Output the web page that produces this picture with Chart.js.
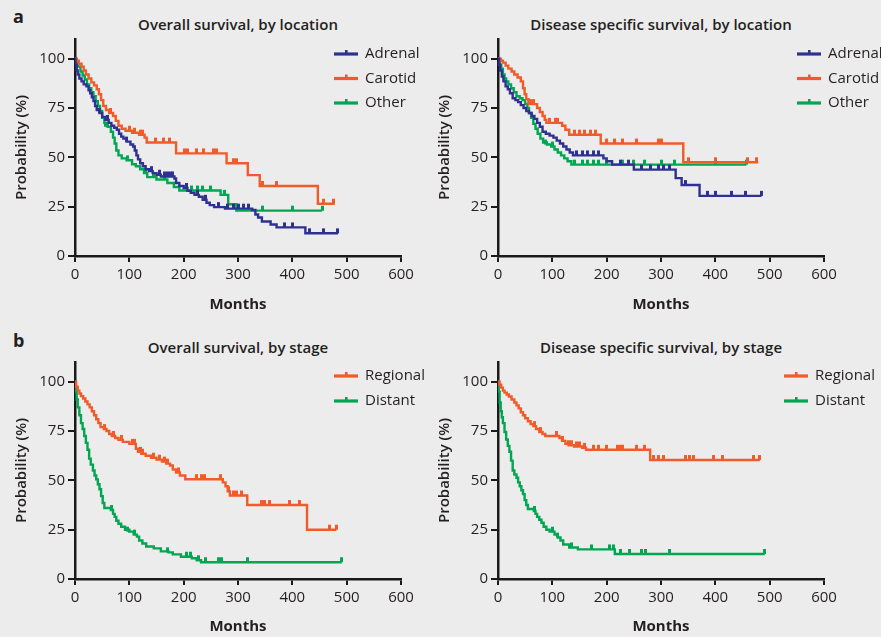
<!DOCTYPE html>
<html><head><meta charset="utf-8">
<script src="https://cdn.jsdelivr.net/npm/chart.js@4.4.1/dist/chart.umd.min.js"></script>
<style>
html,body{margin:0;padding:0;background:#ececec;overflow:hidden;}
body{width:881px;height:637px;position:relative;font-family:"Open Sans",sans-serif;color:#231f20;}
canvas{position:absolute;}
.ttl{position:absolute;transform:translate(-50%,-50%);font-weight:600;font-size:15px;white-space:nowrap;}
.lett{position:absolute;font-weight:700;font-size:18px;transform:translate(0,-50%);}
</style></head><body>
<div class="lett" style="left:13px;top:16px;">a</div>
<div class="lett" style="left:13px;top:340px;">b</div>
<div class="ttl" id="t0" style="left:238px;top:24px;"></div>
<div class="ttl" id="t1" style="left:661px;top:24px;"></div>
<div class="ttl" id="t2" style="left:238px;top:347px;"></div>
<div class="ttl" id="t3" style="left:661px;top:347px;"></div>
<canvas id="c0" width="440" height="320" style="left:0;top:0;"></canvas>
<canvas id="c1" width="458" height="320" style="left:423px;top:0;"></canvas>
<canvas id="c2" width="440" height="317" style="left:0;top:320px;"></canvas>
<canvas id="c3" width="458" height="317" style="left:423px;top:320px;"></canvas>
<script>
// ---------- labels ----------
const xTicks = [0, 100, 200, 300, 400, 500, 600];
const yTicks = [0, 25, 50, 75, 100];
const locationGroups = ['Adrenal', 'Carotid', 'Other'];
const stageGroups = ['Regional', 'Distant'];
const panelTitles = ['Overall survival, by location', 'Disease specific survival, by location',
                     'Overall survival, by stage', 'Disease specific survival, by stage'];
const xTitle = 'Months';
const yTitle = 'Probability (%)';

// ---------- data: [months, survival %] ----------
// Overall survival, by location
const osAdrenal = [[0,100],[1,97],[3,94],[5,92],[8,90],[12,88.5],[16,87],[21,86],[25,84],[28,82.5],[31,80.5],[34,78.5],[37,76],[40,74],[45,72.5],[50,70.5],[56,69],[62,67.5],[67,66],[72,65],[77,64],[81,62],[85,60.5],[89,59.5],[95,58],[102,56.5],[107,55.5],[110,53.5],[113,51],[116,49],[120,47],[125,45.5],[130,44],[136,43],[143,42],[150,41.2],[158,40.3],[183,39.3],[186,37],[192,35.5],[200,34.5],[207,33],[213,32],[220,31],[228,30],[235,28.5],[242,27],[248,25.8],[256,24.8],[276,24],[326,23.3],[332,21],[337,19.5],[344,17.5],[360,16],[371,14.5],[424,11.5],[484,11.5]];
const osAdrenalCens = [[45,72.5],[60,69],[95,58],[140,43],[155,41.2],[165,40.3],[170,40.3],[175,40.3],[180,40.3],[205,34.5],[225,31],[240,28.5],[265,24.8],[280,24],[292,24],[300,24],[310,24],[320,24],[385,14.5],[400,14.5],[432,11.5],[457,11.5],[484,11.5]];
const osCarotid = [[0,100],[3,99],[7,97.5],[12,96],[16,94],[20,92],[25,90],[30,88],[35,86.5],[40,84.5],[44,82],[48,79],[52,76],[57,74],[63,72.5],[70,71],[75,68.5],[80,66],[86,64.5],[93,63.5],[105,62.5],[118,61.5],[128,60],[132,57.5],[186,52],[279,47],[318,41],[340,35.5],[447,26.5],[478,26.5]];
const osCarotidCens = [[65,72.5],[100,63.5],[110,62.5],[120,61.5],[125,61.5],[149,57.5],[162,57.5],[174,57.5],[201,52],[207,52],[223,52],[236,52],[254,52],[260,52],[291,47],[297,47],[346,35.5],[371,35.5],[457,26.5],[475,26.5]];
const osOther = [[0,100],[3,98],[6,96],[10,93.5],[14,91.5],[18,89.5],[22,87],[26,85],[30,83],[34,81],[38,78.5],[42,76],[46,73.5],[50,70],[54,67.5],[60,65.5],[66,63],[70,60],[73,57],[76,53.5],[80,51],[86,49.5],[95,48.5],[105,46.5],[112,45.5],[120,44],[127,42],[133,40],[150,38.8],[170,37],[182,35],[192,33.2],[268,31],[282,26.2],[297,23],[455,23]];
const osOtherCens = [[57,65.5],[97,48.5],[130,42],[145,40],[165,38.8],[215,33.2],[225,33.2],[235,33.2],[250,33.2],[275,31],[345,23],[400,23],[455,23]];

// Disease specific survival, by location
const dssAdrenal = [[0,100],[2,97],[4,94],[7,91],[10,88.5],[14,86],[18,84.5],[22,82.5],[27,80],[32,79],[37,78],[42,76.5],[47,75],[52,73.5],[57,72.5],[62,71],[67,69.5],[72,67.5],[77,65.5],[82,63],[88,62],[95,61],[102,60],[108,58.5],[114,57],[120,55.5],[126,54],[132,52.5],[138,51],[194,49.5],[200,48],[210,46.3],[250,43.8],[327,39.5],[338,36],[371,30.5],[485,30.5]];
const dssAdrenalCens = [[145,51],[155,51],[165,51],[175,51],[185,51],[225,46.3],[240,46.3],[265,43.8],[280,43.8],[295,43.8],[305,43.8],[315,43.8],[345,36],[385,30.5],[400,30.5],[430,30.5],[455,30.5],[485,30.5]];
const dssCarotid = [[0,100],[5,99],[9,98],[14,96.5],[19,95],[25,93.5],[30,92],[36,90.5],[42,88.5],[46,85],[49,82],[52,79.5],[56,77],[72,75],[77,73],[82,71],[86,69],[89,67.5],[118,66],[124,64],[131,61.5],[189,57],[341,47.5],[479,47.5]];
const dssCarotidCens = [[60,77],[65,77],[95,67.5],[105,67.5],[110,67.5],[140,61.5],[150,61.5],[160,61.5],[170,61.5],[180,61.5],[200,57],[215,57],[230,57],[255,57],[295,57],[300,57],[350,47.5],[400,47.5],[460,47.5],[475,47.5]];
const dssOther = [[0,100],[3,97],[6,95],[9,92],[12,90],[15,88.5],[19,87],[24,85],[29,83],[34,81],[40,80],[45,79],[50,77],[54,75],[57,72.5],[61,70],[65,67],[69,64.5],[73,62],[78,59.5],[83,57.5],[90,56.5],[98,55.5],[104,54],[110,52.5],[116,51],[122,49.5],[128,48],[135,46.3],[457,46.3]];
const dssOtherCens = [[88,56.5],[100,55.5],[140,46.3],[155,46.3],[165,46.3],[175,46.3],[185,46.3],[200,46.3],[230,46.3],[250,46.3],[270,46.3],[300,46.3],[325,46.3],[400,46.3],[457,46.3]];

// Overall survival, by stage
const osRegional = [[0,100],[2,97.5],[5,95.5],[8,94],[11,92.7],[15,91.5],[19,90],[23,88.5],[27,87],[31,85],[35,83],[39,81],[43,79],[47,77],[53,76],[58,75],[63,73.5],[68,72.5],[74,71.5],[80,70.5],[88,69.5],[100,68.5],[112,66],[116,64.5],[122,63.5],[130,62.5],[140,61.5],[150,60.5],[160,59.5],[168,58.5],[175,57.5],[180,55.5],[186,54],[193,52.5],[203,50.6],[272,49],[277,47],[281,44.5],[285,42.3],[317,37.5],[427,25],[481,25]];
const osRegionalCens = [[55,76],[70,72.5],[85,70.5],[105,68.5],[110,68.5],[120,64.5],[125,63.5],[145,61.5],[155,60.5],[165,59.5],[170,58.5],[190,54],[223,50.6],[232,50.6],[238,50.6],[267,50.6],[282,44.5],[291,42.3],[297,42.3],[306,42.3],[343,37.5],[349,37.5],[358,37.5],[395,37.5],[414,37.5],[469,25],[481,25]];
const osDistant = [[0,100],[1,95],[3,91],[5,87],[8,83],[11,79],[14,76],[17,72.5],[20,69],[23,65.5],[26,61],[29,58],[33,55],[36,52.5],[39,50.5],[42,48],[45,45.5],[48,42],[51,38.5],[54,36],[66,35],[70,33],[73,31.5],[76,29.5],[80,28],[85,26.5],[92,25],[100,24],[108,22.5],[114,21.5],[118,19.5],[124,18],[131,16.5],[145,15.5],[158,14],[172,13.5],[180,12.5],[195,11.3],[215,10.5],[224,9.5],[232,8.5],[491,8.5]];
const osDistantCens = [[68,35],[97,24],[110,22.5],[170,13.5],[205,11.3],[213,11.3],[228,9.5],[240,8.5],[265,8.5],[270,8.5],[317,8.5],[491,8.5]];

// Disease specific survival, by stage
const dssRegional = [[0,100],[3,98.5],[6,97],[9,95.5],[12,94.5],[16,93.5],[20,92.5],[25,91],[30,89.5],[34,88],[38,86.5],[42,84.5],[46,83],[50,81.5],[55,80],[60,78.5],[65,77.5],[70,76],[76,74.5],[82,73.5],[87,72.5],[113,71.5],[118,70],[124,68.5],[130,67.8],[140,67.2],[155,66.5],[162,65.5],[280,60.3],[482,60.3]];
const dssRegionalCens = [[68,77.5],[78,74.5],[108,72.5],[118,70],[130,67.8],[135,67.8],[145,67.2],[150,67.2],[160,66.5],[175,65.5],[185,65.5],[200,65.5],[220,65.5],[225,65.5],[230,65.5],[255,65.5],[270,65.5],[287,60.3],[295,60.3],[305,60.3],[345,60.3],[352,60.3],[360,60.3],[396,60.3],[413,60.3],[471,60.3],[482,60.3]];
const dssDistant = [[0,100],[1,95],[3,89.5],[5,85],[7,82],[9,79],[12,74.5],[15,70.7],[18,67.5],[21,64.5],[24,60],[27,55],[30,53],[34,51.3],[37,49],[40,47],[43,45],[46,43],[49,40],[52,37.5],[55,35.5],[66,34.5],[69,33],[72,31.5],[76,30],[80,28.5],[84,26.5],[89,25],[95,24],[104,22.5],[110,21],[115,19.5],[120,17.5],[131,16],[147,15],[215,12.7],[491,12.7]];
const dssDistantCens = [[68,34.5],[100,24],[110,21],[135,16],[172,15],[205,15],[212,15],[225,12.7],[242,12.7],[265,12.7],[272,12.7],[316,12.7],[491,12.7]];

// ---------- styling ----------
const COLORS = {Adrenal:'#2e3192', Carotid:'#f15a29', Other:'#00a651', Regional:'#f15a29', Distant:'#00a651'};
const FONT = '"Open Sans", sans-serif';
const TXT = '#231f20';
const AX = '#1a1a1a';

function tickImg(color){
  const c = document.createElement('canvas');
  c.width = 3; c.height = 12;
  const g = c.getContext('2d');
  g.fillStyle = color; g.fillRect(0, 1, 3, 5);
  return c;
}

function makeSets(labels, curves, cens){
  const sets = [];
  labels.forEach((lab, i) => {
    const col = COLORS[lab];
    sets.push({label: lab, data: curves[i].map(p => ({x: p[0], y: p[1]})), showLine: true, stepped: 'before',
      borderColor: col, backgroundColor: col, borderWidth: 2.4, pointRadius: 0, fill: false, order: i});
    sets.push({label: lab + ' (censored)', data: cens[i].map(p => ({x: p[0], y: p[1]})), showLine: false,
      pointStyle: tickImg(col), pointRadius: 3, borderColor: col, backgroundColor: col, order: i});
  });
  return sets;
}

const legendPlugin = {
  id: 'kmLegend',
  afterDraw(chart, args, opts){
    const ctx = chart.ctx;
    ctx.save();
    opts.items.forEach((lab, i) => {
      const y = opts.y + i * opts.gap;
      const col = COLORS[lab];
      ctx.strokeStyle = col; ctx.lineWidth = 3.2;
      ctx.beginPath(); ctx.moveTo(opts.x, y); ctx.lineTo(opts.x + 24, y); ctx.stroke();
      ctx.fillStyle = col; ctx.fillRect(opts.x + 11, y - 4, 2.6, 4);
      ctx.fillStyle = TXT; ctx.font = '15px ' + FONT; ctx.textBaseline = 'middle'; ctx.textAlign = 'left';
      ctx.fillText(lab, opts.x + 31, y);
    });
    ctx.restore();
  }
};

function scales(p){
  return {
    x: {type: 'linear', min: 0, max: 600,
      afterBuildTicks: s => { s.ticks = xTicks.map(v => ({value: v})); },
      afterFit: s => { s.height = p.xH; },
      ticks: {color: TXT, font: {family: FONT, size: 15}, padding: 4, maxRotation: 0, autoSkip: false},
      grid: {display: true, drawOnChartArea: false, drawTicks: true, tickLength: 6, color: AX, lineWidth: 2},
      border: {display: true, color: AX, width: 2.5},
      title: {display: true, text: xTitle, color: TXT, font: {family: FONT, size: 15, weight: '700'}, padding: {top: 0, bottom: p.xPad}}},
    y: {type: 'linear', min: 0, max: 110,
      afterBuildTicks: s => { s.ticks = yTicks.map(v => ({value: v})); },
      afterFit: s => { s.width = 75; },
      ticks: {color: TXT, font: {family: FONT, size: 15}, padding: 3},
      grid: {display: true, drawOnChartArea: false, drawTicks: true, tickLength: 7, color: AX, lineWidth: 2},
      border: {display: true, color: AX, width: 2.5},
      title: {display: true, text: yTitle, color: TXT, font: {family: FONT, size: 15, weight: '600'}, padding: {top: 13, bottom: 0}}}
  };
}

const panels = [
  {id: 'c0', labels: locationGroups, curves: [osAdrenal, osCarotid, osOther], cens: [osAdrenalCens, osCarotidCens, osOtherCens],
   pad: {left: 0, top: 39, right: 39, bottom: 0}, xH: 64, xPad: 6, leg: {x: 334, y: 54, gap: 24.5}},
  {id: 'c1', labels: locationGroups, curves: [dssAdrenal, dssCarotid, dssOther], cens: [dssAdrenalCens, dssCarotidCens, dssOtherCens],
   pad: {left: 0, top: 39, right: 57, bottom: 0}, xH: 64, xPad: 6, leg: {x: 374, y: 54, gap: 24.5}},
  {id: 'c2', labels: stageGroups, curves: [osRegional, osDistant], cens: [osRegionalCens, osDistantCens],
   pad: {left: 0, top: 42, right: 39, bottom: 0}, xH: 58, xPad: 1, leg: {x: 334, y: 56, gap: 25}},
  {id: 'c3', labels: stageGroups, curves: [dssRegional, dssDistant], cens: [dssRegionalCens, dssDistantCens],
   pad: {left: 0, top: 42, right: 57, bottom: 0}, xH: 58, xPad: 1, leg: {x: 361, y: 56, gap: 25}}
];

panels.forEach((p, k) => {
  document.getElementById('t' + k).textContent = panelTitles[k];
  new Chart(document.getElementById(p.id), {
    type: 'scatter',
    data: {datasets: makeSets(p.labels, p.curves, p.cens)},
    options: {
      responsive: false, animation: false, devicePixelRatio: 1, events: [],
      layout: {padding: p.pad},
      scales: scales(p),
      plugins: {legend: {display: false}, tooltip: {enabled: false}, title: {display: false},
        kmLegend: {items: p.labels, x: p.leg.x, y: p.leg.y, gap: p.leg.gap}}
    },
    plugins: [legendPlugin]
  });
});
</script>
</body></html>
